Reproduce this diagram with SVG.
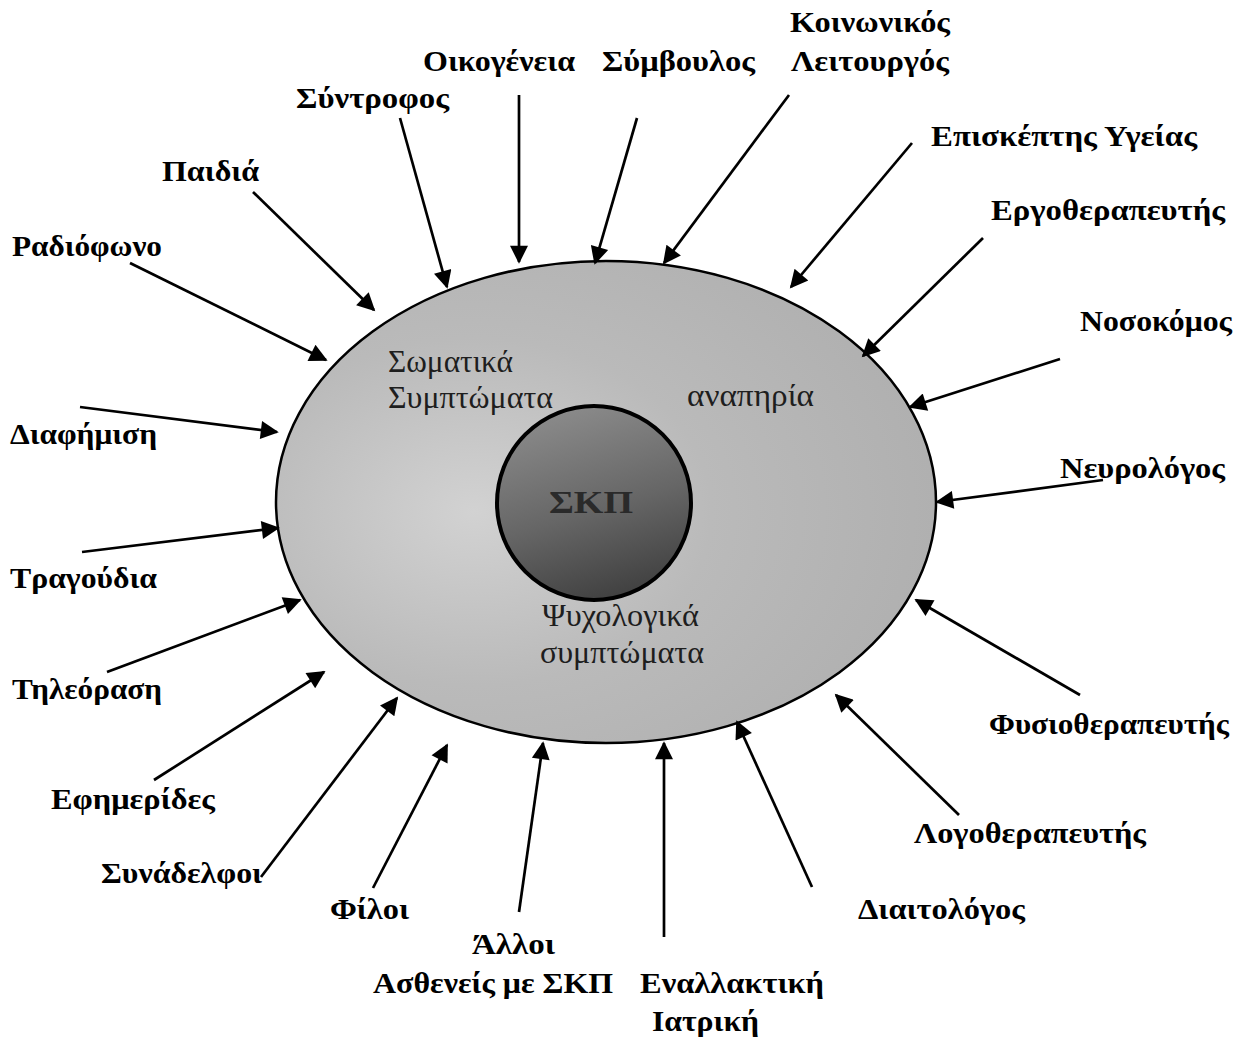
<svg xmlns="http://www.w3.org/2000/svg" width="1243" height="1038" viewBox="0 0 1243 1038">
<defs>
  <radialGradient id="outerFill" cx="0.3" cy="0.52" r="0.8">
    <stop offset="0" stop-color="#d2d2d2"/>
    <stop offset="0.45" stop-color="#bababa"/>
    <stop offset="1" stop-color="#adadad"/>
  </radialGradient>
  <linearGradient id="innerFill" x1="0.3" y1="0" x2="0.6" y2="1">
    <stop offset="0" stop-color="#8c8c8c"/>
    <stop offset="0.55" stop-color="#666666"/>
    <stop offset="1" stop-color="#404040"/>
  </linearGradient>
  <marker id="arr" viewBox="0 0 10 10" refX="9" refY="5" markerWidth="22" markerHeight="18" markerUnits="userSpaceOnUse" orient="auto">
    <path d="M0,0 L10,5 L0,10 z" fill="#000"/>
  </marker>
  <style>
    .lbl { font-family: "Liberation Serif", "Times New Roman", serif; font-weight: bold; font-size: 30px; fill: #000; lengthAdjust: spacingAndGlyphs; }
    .inner { font-family: "Liberation Serif", "Times New Roman", serif; font-size: 31px; fill: #1e1e1e; }
    .conn line { stroke: #000; stroke-width: 2.7; marker-end: url(#arr); }
  </style>
</defs>
<rect width="1243" height="1038" fill="#fff"/>

<g id="outer-ellipse">
  <ellipse cx="606" cy="502" rx="330" ry="241" fill="url(#outerFill)" stroke="#000" stroke-width="2.5"/>
  <text class="inner" x="388" y="372" textLength="125" lengthAdjust="spacingAndGlyphs">Σωματικά</text>
  <text class="inner" x="388" y="408" textLength="165" lengthAdjust="spacingAndGlyphs">Συμπτώματα</text>
  <text class="inner" x="687" y="406" textLength="127" lengthAdjust="spacingAndGlyphs">αναπηρία</text>
  <text class="inner" x="542" y="626" textLength="157" lengthAdjust="spacingAndGlyphs">Ψυχολογικά</text>
  <text class="inner" x="540" y="663" textLength="164" lengthAdjust="spacingAndGlyphs">συμπτώματα</text>
</g>

<g id="skp">
  <circle cx="594" cy="503" r="97" fill="url(#innerFill)" stroke="#000" stroke-width="4"/>
  <text x="549" y="513" textLength="84" lengthAdjust="spacingAndGlyphs" style="font-family:'Liberation Serif','Times New Roman',serif;font-weight:bold;font-size:32px;fill:#2a2a2a">ΣΚΠ</text>
</g>

<g class="conn" id="connectors">
  <line x1="130" y1="263" x2="326" y2="360"/>
  <line x1="253" y1="192" x2="374" y2="310"/>
  <line x1="400" y1="118" x2="447" y2="287"/>
  <line x1="519" y1="95" x2="519" y2="262"/>
  <line x1="637" y1="118" x2="595" y2="263"/>
  <line x1="789" y1="95" x2="664" y2="263"/>
  <line x1="912" y1="143" x2="791" y2="287"/>
  <line x1="983" y1="238" x2="863" y2="356"/>
  <line x1="1060" y1="359" x2="910" y2="407"/>
  <line x1="1103" y1="480" x2="937" y2="502"/>
  <line x1="1080" y1="695" x2="916" y2="600"/>
  <line x1="959" y1="815" x2="836" y2="695"/>
  <line x1="812" y1="887" x2="737" y2="722"/>
  <line x1="664" y1="937" x2="664" y2="743"/>
  <line x1="519" y1="912" x2="543" y2="743"/>
  <line x1="373" y1="888" x2="447" y2="745"/>
  <line x1="261" y1="877" x2="397" y2="698"/>
  <line x1="154" y1="780" x2="324" y2="672"/>
  <line x1="107" y1="672" x2="300" y2="600"/>
  <line x1="82" y1="552" x2="278" y2="528"/>
  <line x1="80" y1="407" x2="277" y2="432"/>
</g>

<g id="n-koinonikos"><text class="lbl" x="790" y="32" textLength="160" lengthAdjust="spacingAndGlyphs">Κοινωνικός</text><text class="lbl" x="791" y="71" textLength="158" lengthAdjust="spacingAndGlyphs">Λειτουργός</text></g>
<g id="n-oikogeneia"><text class="lbl" x="423" y="71" textLength="152" lengthAdjust="spacingAndGlyphs">Οικογένεια</text></g>
<g id="n-symvoulos"><text class="lbl" x="602" y="71" textLength="153" lengthAdjust="spacingAndGlyphs">Σύμβουλος</text></g>
<g id="n-syntrofos"><text class="lbl" x="296" y="108" textLength="153" lengthAdjust="spacingAndGlyphs">Σύντροφος</text></g>
<g id="n-episkeptis"><text class="lbl" x="931" y="146" textLength="266" lengthAdjust="spacingAndGlyphs">Επισκέπτης Υγείας</text></g>
<g id="n-paidia"><text class="lbl" x="162" y="181" textLength="97" lengthAdjust="spacingAndGlyphs">Παιδιά</text></g>
<g id="n-ergotherapeutis"><text class="lbl" x="991" y="220" textLength="234" lengthAdjust="spacingAndGlyphs">Εργοθεραπευτής</text></g>
<g id="n-radiofono"><text class="lbl" x="12" y="256" textLength="150" lengthAdjust="spacingAndGlyphs">Ραδιόφωνο</text></g>
<g id="n-nosokomos"><text class="lbl" x="1080" y="331" textLength="152" lengthAdjust="spacingAndGlyphs">Νοσοκόμος</text></g>
<g id="n-diafimisi"><text class="lbl" x="10" y="444" textLength="147" lengthAdjust="spacingAndGlyphs">Διαφήμιση</text></g>
<g id="n-neurologos"><text class="lbl" x="1060" y="478" textLength="165" lengthAdjust="spacingAndGlyphs">Νευρολόγος</text></g>
<g id="n-tragoudia"><text class="lbl" x="10" y="588" textLength="147" lengthAdjust="spacingAndGlyphs">Τραγούδια</text></g>
<g id="n-tileorasi"><text class="lbl" x="12" y="699" textLength="150" lengthAdjust="spacingAndGlyphs">Τηλεόραση</text></g>
<g id="n-fysiotherapeutis"><text class="lbl" x="989" y="734" textLength="240" lengthAdjust="spacingAndGlyphs">Φυσιοθεραπευτής</text></g>
<g id="n-efimerides"><text class="lbl" x="51" y="809" textLength="164" lengthAdjust="spacingAndGlyphs">Εφημερίδες</text></g>
<g id="n-logotherapeutis"><text class="lbl" x="914" y="843" textLength="232" lengthAdjust="spacingAndGlyphs">Λογοθεραπευτής</text></g>
<g id="n-synadelfoi"><text class="lbl" x="101" y="883" textLength="161" lengthAdjust="spacingAndGlyphs">Συνάδελφοι</text></g>
<g id="n-filoi"><text class="lbl" x="330" y="919" textLength="79" lengthAdjust="spacingAndGlyphs">Φίλοι</text></g>
<g id="n-diaitologos"><text class="lbl" x="858" y="919" textLength="167" lengthAdjust="spacingAndGlyphs">Διαιτολόγος</text></g>
<g id="n-alloi"><text class="lbl" x="472" y="954" textLength="83" lengthAdjust="spacingAndGlyphs">Άλλοι</text><text class="lbl" x="373" y="993" textLength="240" lengthAdjust="spacingAndGlyphs">Ασθενείς με ΣΚΠ</text></g>
<g id="n-enallaktiki"><text class="lbl" x="640" y="993" textLength="184" lengthAdjust="spacingAndGlyphs">Εναλλακτική</text><text class="lbl" x="652" y="1031" textLength="107" lengthAdjust="spacingAndGlyphs">Ιατρική</text></g>
</svg>
